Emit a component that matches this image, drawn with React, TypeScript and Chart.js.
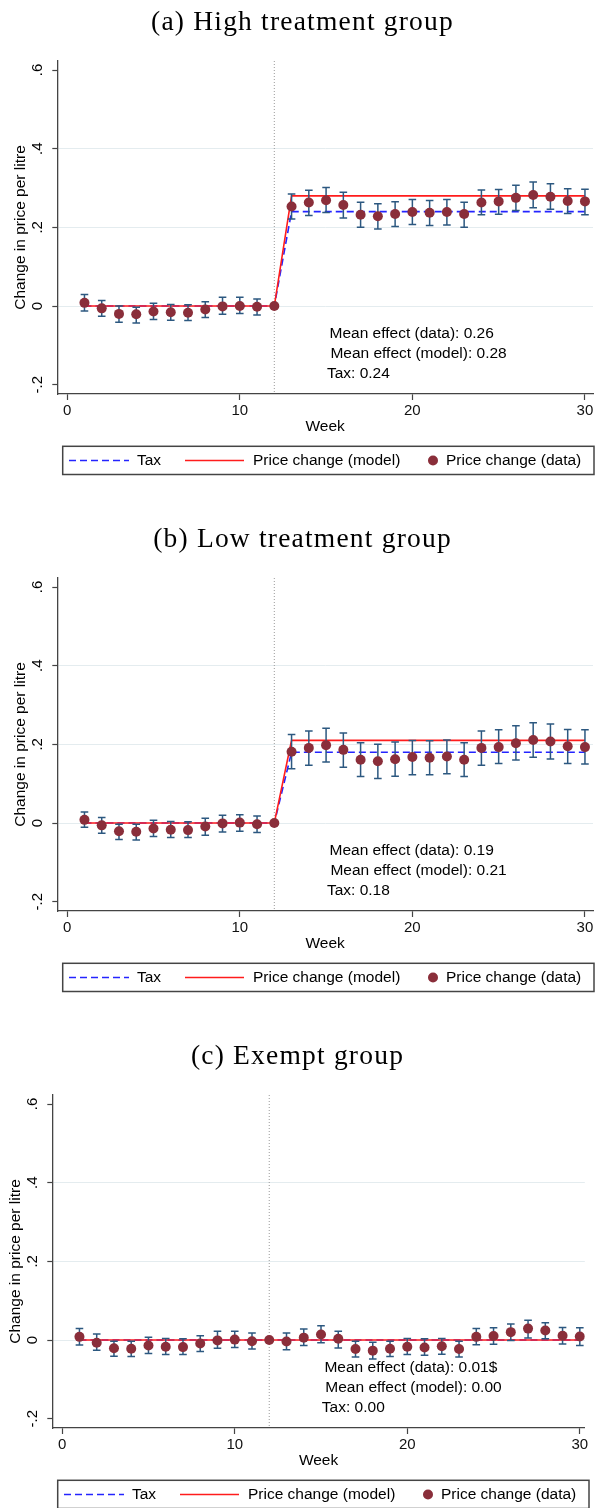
import { useEffect, useRef } from 'react';
import { Chart, registerables } from 'chart.js';
import type { Plugin } from 'chart.js';

Chart.register(...registerables);

// weeks with an estimate
const weeks = [1, 2, 3, 4, 5, 6, 7, 8, 9, 10, 11, 12, 13, 14, 15, 16, 17, 18, 19, 20, 21, 22, 23, 24, 25, 26, 27, 28, 29, 30];
// tax / model lines only change at the reform
const lineWeeks = [1, 12, 13, 30];
const reformWeek = 12;

const xTicks = [0, 10, 20, 30];
const yTicks = [-0.2, 0, 0.2, 0.4, 0.6];
const yTickLabels = ['-.2', '0', '.2', '.4', '.6'];
const legendLabels = ['Tax', 'Price change (model)', 'Price change (data)'];

// (a) high treatment
const taxHigh = [0, 0, 0.24, 0.24];
const modelHigh = [0, 0, 0.28, 0.28];
const estHigh = [0.008, -0.006, -0.02, -0.021, -0.014, -0.016, -0.017, -0.009, -0.001, 0, -0.002, 0,
  0.253, 0.263, 0.269, 0.257, 0.232, 0.228, 0.234, 0.239, 0.237, 0.239, 0.234, 0.263, 0.266, 0.275, 0.282, 0.278, 0.267, 0.266];
const hiHigh = [0.029, 0.014, 0, -0.003, 0.007, 0.004, 0.003, 0.011, 0.022, 0.022, 0.018, null,
  0.285, 0.294, 0.301, 0.289, 0.264, 0.26, 0.265, 0.271, 0.268, 0.271, 0.264, 0.295, 0.296, 0.307, 0.315, 0.311, 0.298, 0.297];
const loHigh = [-0.013, -0.026, -0.041, -0.043, -0.034, -0.036, -0.037, -0.029, -0.021, -0.019, -0.023, null,
  0.221, 0.23, 0.238, 0.224, 0.2, 0.196, 0.202, 0.207, 0.205, 0.206, 0.2, 0.232, 0.233, 0.243, 0.25, 0.246, 0.235, 0.232];
const notesHigh = ['Mean effect (data): 0.26', 'Mean effect (model): 0.28', 'Tax: 0.24'];

// (b) low treatment
const taxLow = [0, 0, 0.18, 0.18];
const modelLow = [0, 0, 0.21, 0.21];
const estLow = [0.008, -0.006, -0.021, -0.022, -0.014, -0.017, -0.018, -0.009, -0.001, 0.001, -0.003, 0,
  0.181, 0.191, 0.198, 0.186, 0.161, 0.157, 0.162, 0.168, 0.166, 0.169, 0.161, 0.191, 0.193, 0.203, 0.211, 0.207, 0.195, 0.193];
const hiLow = [0.028, 0.014, -0.003, -0.003, 0.007, 0.004, 0.003, 0.012, 0.02, 0.021, 0.018, null,
  0.225, 0.234, 0.241, 0.229, 0.204, 0.2, 0.206, 0.21, 0.209, 0.211, 0.204, 0.234, 0.237, 0.247, 0.255, 0.252, 0.238, 0.237];
const loLow = [-0.011, -0.026, -0.042, -0.043, -0.034, -0.037, -0.037, -0.031, -0.023, -0.021, -0.024, null,
  0.138, 0.147, 0.155, 0.142, 0.118, 0.113, 0.119, 0.123, 0.123, 0.125, 0.118, 0.147, 0.151, 0.16, 0.167, 0.163, 0.151, 0.15];
const notesLow = ['Mean effect (data): 0.19', 'Mean effect (model): 0.21', 'Tax: 0.18'];

// (c) exempt
const taxExempt = [0, 0, 0, 0];
const modelExempt = [0, 0, 0, 0];
const estExempt = [0.008, -0.007, -0.021, -0.022, -0.014, -0.017, -0.018, -0.009, -0.001, 0.001, -0.003, 0,
  -0.004, 0.006, 0.014, 0.003, -0.023, -0.027, -0.022, -0.017, -0.019, -0.016, -0.023, 0.008, 0.01, 0.02, 0.029, 0.024, 0.011, 0.009];
const hiExempt = [0.029, 0.015, -0.003, -0.003, 0.007, 0.004, 0.003, 0.011, 0.022, 0.022, 0.018, null,
  0.018, 0.028, 0.036, 0.022, -0.003, -0.006, -0.003, 0.004, 0.003, 0.004, -0.003, 0.029, 0.031, 0.041, 0.05, 0.044, 0.032, 0.031];
const loExempt = [-0.013, -0.026, -0.041, -0.042, -0.034, -0.037, -0.037, -0.029, -0.021, -0.019, -0.023, null,
  -0.025, -0.014, -0.007, -0.02, -0.043, -0.048, -0.042, -0.037, -0.039, -0.036, -0.043, -0.012, -0.011, -0.001, 0.005, 0.003, -0.01, -0.014];
const notesExempt = ['Mean effect (data): 0.01$', 'Mean effect (model): 0.00', 'Tax: 0.00'];

// where the three note lines sit, in data units
const noteX = [15.2, 15.25, 15.05];
const noteY = [-0.071, -0.122, -0.171];

const SANS = '"Liberation Sans", Arial, sans-serif';
const BLUE = '#2424ff';
const RED = '#ff1c1c';
const DOT = '#8a2e3a';
const CAP = '#2c5880';
const AXIS = '#444';
const PANEL_H = 517;

interface PanelProps {
  title: string;
  tax: number[];
  model: number[];
  est: number[];
  lo: (number | null)[];
  hi: (number | null)[];
  notes: string[];
  top: number;
  left: number;
  width: number;
  xMax: number;
}

function Panel({ title, tax, model, est, lo, hi, notes, top, left, width, xMax }: PanelProps) {
  const canvasRef = useRef<HTMLCanvasElement>(null);

  useEffect(() => {
    if (!canvasRef.current) return;
    const ctx = canvasRef.current.getContext('2d');
    if (!ctx) return;

    const decor: Plugin<'scatter'> = {
      id: 'decor',
      beforeDatasetsDraw(chart) {
        const { ctx: c, chartArea, scales } = chart;
        const x = scales.x.getPixelForValue(reformWeek);
        c.save();
        c.strokeStyle = '#9a9a9a';
        c.lineWidth = 1;
        c.setLineDash([1, 2]);
        c.beginPath();
        c.moveTo(x, chartArea.top);
        c.lineTo(x, chartArea.bottom);
        c.stroke();
        c.restore();
      },
      beforeDatasetDraw(chart, args) {
        if (args.index !== 2) return;
        const { ctx: c, scales } = chart;
        c.save();
        c.strokeStyle = CAP;
        c.lineWidth = 1.5;
        weeks.forEach((w, i) => {
          const l = lo[i];
          const h = hi[i];
          if (l === null || h === null) return;
          const x = scales.x.getPixelForValue(w);
          const y1 = scales.y.getPixelForValue(l);
          const y2 = scales.y.getPixelForValue(h);
          c.beginPath();
          c.moveTo(x, y1);
          c.lineTo(x, y2);
          c.moveTo(x - 3.8, y1);
          c.lineTo(x + 3.8, y1);
          c.moveTo(x - 3.8, y2);
          c.lineTo(x + 3.8, y2);
          c.stroke();
        });
        c.restore();
      },
      afterDraw(chart) {
        const { ctx: c, scales } = chart;
        c.save();
        // panel title
        c.fillStyle = '#000';
        c.font = '27.5px "Liberation Serif", serif';
        (c as any).letterSpacing = '1.2px';
        c.textAlign = 'center';
        c.textBaseline = 'alphabetic';
        c.fillText(title, 302.5, 29.5);
        (c as any).letterSpacing = '0px';

        // rotated y tick labels
        c.font = `15px ${SANS}`;
        c.textBaseline = 'middle';
        c.textAlign = 'center';
        yTicks.forEach((v, i) => {
          c.save();
          c.translate(38.3, scales.y.getPixelForValue(v));
          c.rotate(-Math.PI / 2);
          c.fillText(yTickLabels[i], 0, 0);
          c.restore();
        });

        // mean effect notes
        c.font = `15.5px ${SANS}`;
        c.textAlign = 'left';
        notes.forEach((n, i) => {
          c.fillText(n, scales.x.getPixelForValue(noteX[i]), scales.y.getPixelForValue(noteY[i]));
        });

        // legend
        const cy = 460.5;
        c.strokeStyle = AXIS;
        c.lineWidth = 1.5;
        c.strokeRect(62.7, 446.3, 531.3, 28.2);
        c.lineWidth = 1.6;
        c.strokeStyle = BLUE;
        c.setLineDash([7, 4]);
        c.beginPath();
        c.moveTo(69, cy);
        c.lineTo(129, cy);
        c.stroke();
        c.setLineDash([]);
        c.strokeStyle = RED;
        c.beginPath();
        c.moveTo(185, cy);
        c.lineTo(244, cy);
        c.stroke();
        c.fillStyle = DOT;
        c.beginPath();
        c.arc(433, cy, 5, 0, Math.PI * 2);
        c.fill();
        c.fillStyle = '#000';
        c.fillText(legendLabels[0], 137, cy);
        c.fillText(legendLabels[1], 253, cy);
        c.fillText(legendLabels[2], 446, cy);
        c.restore();
      },
    };

    const chart = new Chart(ctx, {
      type: 'scatter',
      data: {
        datasets: [
          {
            label: legendLabels[0],
            data: lineWeeks.map((w, i) => ({ x: w, y: tax[i] })),
            showLine: true,
            borderColor: BLUE,
            borderWidth: 1.6,
            borderDash: [7, 4],
            pointRadius: 0,
            order: 2,
          },
          {
            label: legendLabels[1],
            data: lineWeeks.map((w, i) => ({ x: w, y: model[i] })),
            showLine: true,
            borderColor: RED,
            borderWidth: 1.6,
            pointRadius: 0,
            order: 1,
          },
          {
            label: legendLabels[2],
            data: weeks.map((w, i) => ({ x: w, y: est[i] })),
            pointRadius: 5,
            pointBackgroundColor: DOT,
            pointBorderColor: DOT,
            pointBorderWidth: 0,
            order: 0,
          },
        ],
      },
      options: {
        responsive: false,
        animation: false,
        layout: { padding: { top: 61, left: 0, right: 0, bottom: 80.7 } },
        plugins: {
          legend: { display: false },
          tooltip: { enabled: false },
          title: { display: false },
        },
        scales: {
          x: {
            type: 'linear',
            min: -0.574,
            max: xMax,
            afterBuildTicks: (s) => {
              s.ticks = xTicks.map((v) => ({ value: v }));
            },
            afterFit: (s) => {
              s.height = 42.3;
            },
            ticks: { font: { family: SANS, size: 15 }, color: '#111', padding: 1.8 },
            grid: { drawOnChartArea: false, drawTicks: true, tickLength: 6, tickColor: AXIS, tickWidth: 1.2 },
            border: { color: AXIS, width: 1.3 },
            title: {
              display: true,
              text: 'Week',
              color: '#000',
              font: { family: SANS, size: 15.5 },
              padding: { top: 0, bottom: 0 },
            },
          },
          y: {
            type: 'linear',
            min: -0.2237,
            max: 0.6229,
            afterBuildTicks: (s) => {
              s.ticks = yTicks.map((v) => ({ value: v }));
            },
            afterFit: (s) => {
              s.width = 57.3;
            },
            ticks: { display: false },
            grid: {
              color: (c) => {
                const v = c.tick ? c.tick.value : 0;
                return Math.abs(v - 0.6) < 1e-6 || Math.abs(v + 0.2) < 1e-6 ? 'rgba(0,0,0,0)' : '#e4ecef';
              },
              lineWidth: 1,
              drawTicks: true,
              tickLength: 5,
              tickColor: AXIS,
              tickWidth: 1.2,
            },
            border: { color: AXIS, width: 1.3 },
            title: {
              display: true,
              text: 'Change in price per litre',
              color: '#000',
              font: { family: SANS, size: 15.5 },
              padding: { top: 11.4, bottom: 0 },
            },
          },
        },
      },
      plugins: [decor],
    });

    return () => {
      chart.destroy();
    };
  }, [title, tax, model, est, lo, hi, notes, xMax]);

  return (
    <canvas
      ref={canvasRef}
      width={width}
      height={PANEL_H}
      style={{ position: 'absolute', left, top, width, height: PANEL_H }}
    />
  );
}

export default function App() {
  return (
    <div style={{ position: 'absolute', left: 0, top: 0, width: 598, height: 1508, overflow: 'hidden', background: '#fff' }}>
      <Panel title="(a) High treatment group" tax={taxHigh} model={modelHigh} est={estHigh} lo={loHigh} hi={hiHigh}
        notes={notesHigh} top={0} left={0} width={598} xMax={30.466} />
      <Panel title="(b) Low treatment group" tax={taxLow} model={modelLow} est={estLow} lo={loLow} hi={hiLow}
        notes={notesLow} top={517} left={0} width={598} xMax={30.466} />
      <Panel title="(c) Exempt group" tax={taxExempt} model={modelExempt} est={estExempt} lo={loExempt} hi={hiExempt}
        notes={notesExempt} top={1034} left={-5.5} width={595} xMax={30.29} />
    </div>
  );
}
